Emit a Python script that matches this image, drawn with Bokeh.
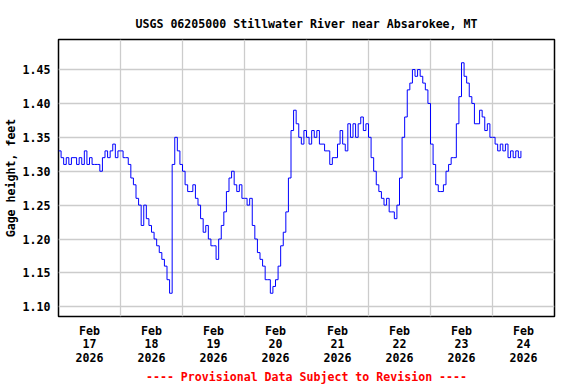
import pandas as pd
from bokeh.plotting import figure
from bokeh.models import Range1d, FixedTicker, Title, NumeralTickFormatter
from bokeh.embed import file_html
from bokeh.resources import INLINE

title_text = "USGS 06205000 Stillwater River near Absarokee, MT"
y_label = "Gage height, feet"
footer_text = "---- Provisional Data Subject to Revision ----"

start_time = "2026-02-17 00:00"
x_start = "2026-02-17 00:00"
x_end = "2026-02-25 00:00"

# hourly gage height readings (feet)
gage_feb17 = [1.33, 1.32, 1.31, 1.32, 1.31, 1.32, 1.32, 1.31, 1.32, 1.31, 1.33, 1.31,
              1.32, 1.31, 1.31, 1.31, 1.30, 1.32, 1.33, 1.32, 1.33, 1.34, 1.32, 1.33]
gage_feb18 = [1.33, 1.32, 1.32, 1.31, 1.29, 1.28, 1.26, 1.25, 1.22, 1.25, 1.23, 1.22,
              1.21, 1.20, 1.19, 1.18, 1.17, 1.16, 1.14, 1.12, 1.31, 1.35, 1.33, 1.31]
gage_feb19 = [1.30, 1.28, 1.27, 1.27, 1.28, 1.26, 1.25, 1.23, 1.21, 1.22, 1.20, 1.19,
              1.19, 1.17, 1.20, 1.22, 1.24, 1.27, 1.29, 1.30, 1.28, 1.27, 1.28, 1.26]
gage_feb20 = [1.26, 1.25, 1.26, 1.22, 1.20, 1.18, 1.17, 1.16, 1.14, 1.14, 1.12, 1.13,
              1.14, 1.16, 1.19, 1.21, 1.24, 1.29, 1.36, 1.39, 1.37, 1.35, 1.34, 1.36]
gage_feb21 = [1.35, 1.34, 1.36, 1.35, 1.36, 1.34, 1.34, 1.33, 1.33, 1.31, 1.32, 1.32,
              1.34, 1.36, 1.34, 1.33, 1.37, 1.35, 1.37, 1.35, 1.37, 1.38, 1.36, 1.37]
gage_feb22 = [1.35, 1.32, 1.30, 1.28, 1.27, 1.26, 1.25, 1.26, 1.24, 1.24, 1.23, 1.25,
              1.29, 1.35, 1.38, 1.42, 1.43, 1.45, 1.44, 1.45, 1.44, 1.43, 1.42, 1.40]
gage_feb23 = [1.34, 1.31, 1.28, 1.27, 1.27, 1.28, 1.30, 1.31, 1.32, 1.32, 1.37, 1.41,
              1.46, 1.44, 1.43, 1.41, 1.40, 1.37, 1.37, 1.39, 1.38, 1.36, 1.37, 1.35]
gage_feb24 = [1.35, 1.34, 1.33, 1.34, 1.33, 1.34, 1.32, 1.33, 1.32, 1.33, 1.32, 1.33]

tick_times = ["2026-02-17 12:00", "2026-02-18 12:00", "2026-02-19 12:00", "2026-02-20 12:00",
              "2026-02-21 12:00", "2026-02-22 12:00", "2026-02-23 12:00", "2026-02-24 12:00"]
tick_labels = ["Feb\n17\n2026", "Feb\n18\n2026", "Feb\n19\n2026", "Feb\n20\n2026",
               "Feb\n21\n2026", "Feb\n22\n2026", "Feb\n23\n2026", "Feb\n24\n2026"]
grid_times = ["2026-02-18", "2026-02-19", "2026-02-20", "2026-02-21",
              "2026-02-22", "2026-02-23", "2026-02-24"]
y_ticks = [1.10, 1.15, 1.20, 1.25, 1.30, 1.35, 1.40, 1.45]
y_min, y_max = 1.0857, 1.4943

gage_height = (gage_feb17 + gage_feb18 + gage_feb19 + gage_feb20 +
               gage_feb21 + gage_feb22 + gage_feb23 + gage_feb24)
times = pd.date_range(start_time, periods=len(gage_height), freq="h")


def ms(t):
    return float(pd.Timestamp(t).value // 10**6)


FONT = "DejaVu Sans Mono"
FS = "11.6px"

p = figure(width=576, height=384, output_backend="svg", toolbar_location=None,
           x_axis_type="datetime",
           x_range=Range1d(pd.Timestamp(x_start), pd.Timestamp(x_end)),
           y_range=Range1d(y_min, y_max),
           min_border_left=58, min_border_right=22, min_border_top=39, min_border_bottom=68)

p.step(times, gage_height, mode="after", line_color="#0000ff", line_width=1)

p.title.text = title_text
p.title.align = "center"
p.title.text_font = FONT
p.title.text_font_size = FS
p.title.text_font_style = "bold"
p.title.text_color = "black"
p.title.standoff = 17

footer = Title(text=footer_text, align="center", text_font=FONT, text_font_size=FS,
               text_font_style="bold", text_color="#ff0000", standoff=0)
p.add_layout(footer, "below")

# x axis
p.xaxis.ticker = FixedTicker(ticks=[ms(t) for t in tick_times])
p.xaxis.major_label_overrides = {ms(t): lab for t, lab in zip(tick_times, tick_labels)}
p.xaxis.major_label_text_line_height = 0.97
p.xgrid.ticker = FixedTicker(ticks=[ms(t) for t in grid_times])

# y axis
p.yaxis.ticker = FixedTicker(ticks=y_ticks)
p.yaxis.formatter = NumeralTickFormatter(format="0.00")
p.yaxis.axis_label = y_label
p.yaxis.axis_label_standoff = 2

for ax in (p.xaxis, p.yaxis):
    ax.major_label_text_font = FONT
    ax.major_label_text_font_size = FS
    ax.major_label_text_font_style = "bold"
    ax.major_label_text_color = "black"
    ax.axis_label_text_font = FONT
    ax.axis_label_text_font_size = FS
    ax.axis_label_text_font_style = "bold"
    ax.axis_label_text_color = "black"
    ax.major_tick_line_color = None
    ax.minor_tick_line_color = None
    ax.major_tick_out = 0
    ax.major_tick_in = 0
    ax.minor_tick_out = 0
    ax.minor_tick_in = 0
    ax.axis_line_color = None
    ax.major_label_standoff = 8

p.xaxis.major_label_standoff = 7

for g in (p.xgrid, p.ygrid):
    g.grid_line_color = "#cccccc"
    g.grid_line_width = 1.3

p.outline_line_color = "black"
p.outline_line_width = 1.5
p.outline_line_alpha = 1.0
p.background_fill_color = "white"
p.border_fill_color = "white"

open("out.html", "w").write(file_html(p, INLINE))
